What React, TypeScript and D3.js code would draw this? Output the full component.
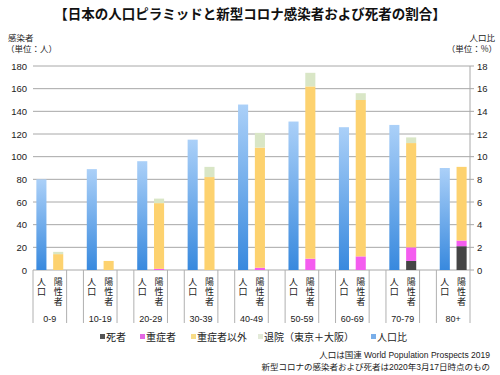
import React from "react";
import * as d3 from "d3";

const ages = ["0-9", "10-19", "20-29", "30-39", "40-49", "50-59", "60-69", "70-79", "80+"];
const population = [8.0, 8.9, 9.6, 11.5, 14.6, 13.1, 12.6, 12.8, 9.0];
const deaths = [0, 0, 0, 0, 0, 0, 0, 8, 21];
const severe = [0, 0, 1, 0, 2, 10, 12, 12, 5];
const nonSevere = [14, 8, 58, 82, 106, 152, 138, 92, 65];
const discharged = [2, 0, 4, 9, 13, 12, 6, 5, 0];
const leftTicks = [0, 20, 40, 60, 80, 100, 120, 140, 160, 180];
const rightTicks = [0, 2, 4, 6, 8, 10, 12, 14, 16, 18];
const seriesColors = ["#454545", "#f45cef", "#fdd26f", "#d9e6c6"];
const legendColors = ["#555555", "#e468e4", "#f8dc86", "#e3ead8", "#79aee9"];
const legendLabels = ["死者", "重症者", "重症者以外", "退院（東京＋大阪）", "人口比"];
const subLabels = ["人口", "陽性者"];
const footnotes = ["人口は国連 World Population Prospects 2019", "新型コロナの感染者および死者は2020年3月17日時点のもの"];

const W = 500, H = 375;
const L = 33, R = 470, T = 66, B = 270;
const FONT = "'Liberation Sans', 'Noto Sans CJK JP', sans-serif";
const JP = "'Noto Sans CJK JP', 'Liberation Sans', sans-serif";

export default function App() {
  const slots: string[] = [];
  ages.forEach((a, i) => {
    slots.push(a + "|pop", a + "|pos");
    if (i < ages.length - 1) slots.push(a + "|gap");
  });
  const x = d3.scaleBand<string>().domain(slots).range([L, R]).padding(0);
  const step = x.bandwidth();
  const bw = step * 0.6;
  const y = d3.scaleLinear().domain([0, 180]).range([B, T]);
  const yR = d3.scaleLinear().domain([0, 18]).range([B, T]);

  const stackData = ages.map((a, i) => ({
    age: a,
    s0: deaths[i], s1: severe[i], s2: nonSevere[i], s3: discharged[i],
  }));
  const stack = d3.stack<any>().keys(["s0", "s1", "s2", "s3"])(stackData);

  const legendX = [100, 140, 191, 258, 371];

  return (
    <svg width={W} height={H} style={{ position: "absolute", left: 0, top: 0, background: "#fff" }} fontFamily={FONT}>
      <defs>
        <linearGradient id="popGrad" x1="0" y1="0" x2="0" y2="1">
          <stop offset="0" stopColor="#abd0f8" />
          <stop offset="1" stopColor="#3889de" />
        </linearGradient>
      </defs>
      <text x={250} y={19} textAnchor="middle" fontSize={13.5} fontWeight="bold" fontFamily={JP} fill="#111">
        【日本の人口ピラミッドと新型コロナ感染者および死者の割合】
      </text>
      <text x={8} y={41} fontSize={8.5} fontFamily={JP} fill="#222">感染者</text>
      <text x={6} y={51.5} fontSize={8.5} fontFamily={JP} fill="#222">（単位：人）</text>
      <text x={495} y={41} textAnchor="end" fontSize={8.5} fontFamily={JP} fill="#222">人口比</text>
      <text x={497} y={51.5} textAnchor="end" fontSize={8.5} fontFamily={JP} fill="#222">（単位：%）</text>

      {leftTicks.map((t) => (
        <g key={"g" + t}>
          <line x1={L} x2={R} y1={y(t)} y2={y(t)} stroke="#a8a8a8" strokeWidth={1} />
          <text x={27} y={y(t) + 3.5} textAnchor="end" fontSize={9.5} fill="#222">{t}</text>
        </g>
      ))}
      {rightTicks.map((t) => (
        <g key={"r" + t}>
          <line x1={R} x2={R + 4} y1={yR(t)} y2={yR(t)} stroke="#a8a8a8" />
          <text x={477} y={yR(t) + 3.5} fontSize={9.5} fill="#222">{t}</text>
        </g>
      ))}
      <line x1={R} x2={R} y1={T} y2={B} stroke="#a8a8a8" />

      {ages.map((a, i) => (
        <rect key={"p" + a} x={x(a + "|pop")! + (step - bw) / 2} width={bw}
          y={yR(population[i])} height={B - yR(population[i])} fill="url(#popGrad)" />
      ))}
      {stack.map((layer, k) =>
        layer.map((d, i) => (
          d[1] - d[0] > 0 ? (
            <rect key={"s" + k + "-" + i} x={x(ages[i] + "|pos")! + (step - bw) / 2} width={bw}
              y={y(d[1])} height={y(d[0]) - y(d[1])} fill={seriesColors[k]} />
          ) : null
        ))
      )}

      {ages.map((a) => {
        const x0 = x(a + "|pop")!;
        const cp = x0 + step / 2;
        const cq = x(a + "|pos")! + step / 2;
        return (
          <g key={"c" + a}>
            <line x1={x0} x2={x0} y1={B} y2={323} stroke="#b0b0b0" />
            <line x1={x0 + 2 * step} x2={x0 + 2 * step} y1={B} y2={323} stroke="#b0b0b0" />
            <text x={cp} y={277} fontSize={9} fontFamily={JP} fill="#222"
              style={{ writingMode: "vertical-rl" as any, letterSpacing: "1.2px" }}>{subLabels[0]}</text>
            <text x={cq} y={277} fontSize={9} fontFamily={JP} fill="#222"
              style={{ writingMode: "vertical-rl" as any, letterSpacing: "1.2px" }}>{subLabels[1]}</text>
            <text x={x0 + step} y={322} textAnchor="middle" fontSize={9} fill="#222">{a}</text>
          </g>
        );
      })}

      {legendLabels.map((l, i) => (
        <g key={"l" + l}>
          <rect x={legendX[i]} y={334} width={5} height={5} fill={legendColors[i]} />
          <text x={legendX[i] + 6} y={340.5} fontSize={10} fontFamily={JP} fill="#222">{l}</text>
        </g>
      ))}

      <text x={490} y={358} textAnchor="end" fontSize={8.5} fontFamily={FONT} fill="#222">{footnotes[0]}</text>
      <text x={490} y={369.5} textAnchor="end" fontSize={8.5} fontFamily={FONT} fill="#222">{footnotes[1]}</text>
    </svg>
  );
}
